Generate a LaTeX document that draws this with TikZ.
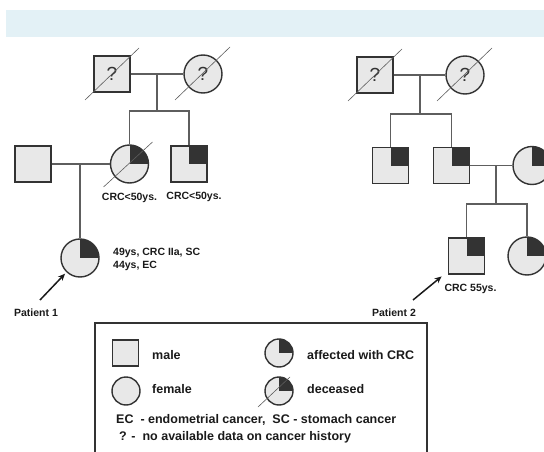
\documentclass[tikz,border=0pt]{standalone}
\usepackage{fontspec}
\setmainfont{Liberation Sans}
\usetikzlibrary{arrows.meta}
\usetikzlibrary{positioning}
\usetikzlibrary{calc}
\definecolor{bandblue}{HTML}{E3F1F6}
\definecolor{symfill}{HTML}{E8E8E8}
\definecolor{symdark}{HTML}{333333}
\definecolor{linegray}{HTML}{5E5E5E}
\definecolor{txt}{HTML}{1A1A1A}
\tikzset{
  male/.style={rectangle, draw=symdark, line width=1.4pt, fill=symfill,
    minimum size=36pt, inner sep=0pt, text=symdark, font=\fontsize{19}{19}\selectfont},
  female/.style={circle, draw=symdark, line width=1.4pt, fill=symfill,
    minimum size=38pt, inner sep=0pt, text=symdark, font=\fontsize{19}{19}\selectfont},
  affected/.style={path picture={\fill[symdark] (path picture bounding box.center)
    rectangle (path picture bounding box.north east);}},
  deceased/.style={draw=linegray, line width=0.6pt},
  rel/.style={draw=linegray, line width=1.5pt},
  note/.style={font=\bfseries\fontsize{10.5}{13}\selectfont, text=txt, inner sep=0pt, align=left},
  legtext/.style={font=\bfseries\fontsize{12.5}{14}\selectfont, text=txt, inner sep=0pt, anchor=west},
  pointer/.style={-{Stealth[length=7pt,width=6pt]}, line width=1.5pt, draw=txt},
}
\begin{document}
\begin{tikzpicture}[x=1pt, y=-1pt]
  \useasboundingbox (0,0) rectangle (544,452);
  \clip (0,0) rectangle (544,452);
  %top band
  \fill[bandblue] (6,10) rectangle (544,37);

  %family of patient 1
  \node[male] (gf1) at (112,74) {?};
  \node[female] (gm1) at (203,74) {?};
  \node[male] (fa1) at (33,164) {};
  \node[female, affected] (mo1) at (129.5,164) {};
  \node[male, affected] (un1) at (189,164) {};
  \node[female, affected] (pt1) at (80,258) {};
  \coordinate (m1) at (157,74);
  \coordinate (s1) at (157,111);
  \coordinate (m2) at (80,164);
  \draw[rel] (gf1) -- (gm1);
  \draw[rel] (m1) -- (s1);
  \draw[rel] (mo1) |- (s1) -| (un1);
  \draw[rel] (fa1) -- (mo1);
  \draw[rel] (m2) -- (pt1);
  %deceased
  \draw[deceased] ($(gf1)+(-27,26)$) -- ($(gf1)+(27,-26)$);
  \draw[deceased] ($(gm1)+(-28,26)$) -- ($(gm1)+(27,-27)$);
  \draw[deceased] ($(mo1)+(-26,23)$) -- ($(mo1)+(23,-22)$);
  %labels
  \node[note, below=9pt of mo1] (l1) {CRC<50ys.};
  \node[note, below=9pt of un1, xshift=5pt] (l2) {CRC<50ys.};
  \node[note, anchor=west] (l3) at (113,259) {49ys, CRC IIa, SC\\44ys, EC};
  \node[note] (pl1) at (36,313) {Patient 1};
  \coordinate (a1) at (40,300);
  \draw[pointer, shorten >=2pt] (a1) -- (pt1);

  %family of patient 2
  \node[male] (gf2) at (375,75) {?};
  \node[female] (gm2) at (465,75) {?};
  \node[male, affected] (so1) at (390.5,165.5) {};
  \node[male, affected] (so2) at (451.5,165.5) {};
  \node[female, affected] (wi2) at (532,165.5) {};
  \node[male, affected] (pt2) at (466.5,256) {};
  \node[female, affected] (da2) at (527,256) {};
  \coordinate (m3) at (420,75);
  \coordinate (s3) at (420,114);
  \coordinate (m4) at (496,165.5);
  \coordinate (s4) at (496,204);
  \draw[rel] (gf2) -- (gm2);
  \draw[rel] (m3) -- (s3);
  \draw[rel] (so1) |- (s3) -| (so2);
  \draw[rel] (so2) -- (wi2);
  \draw[rel] (m4) -- (s4);
  \draw[rel] (pt2) |- (s4) -| (da2);
  %deceased
  \draw[deceased] ($(gf2)+(-27,26)$) -- ($(gf2)+(27,-26)$);
  \draw[deceased] ($(gm2)+(-28,26)$) -- ($(gm2)+(27,-27)$);
  %labels
  \node[note, below=9pt of pt2, xshift=4pt] (l4) {CRC 55ys.};
  \node[note] (pl2) at (394,313) {Patient 2};
  \coordinate (a2) at (413,300);
  \draw[pointer, shorten >=8pt] (a2) -- (pt2);

  %legend
  \draw[line width=1.4pt, draw=symdark] (95,323) rectangle (427,470);
  \node[male, minimum size=26pt] (lm) at (125.5,353) {};
  \node[female, minimum size=28pt] (lf) at (126,391) {};
  \node[female, affected, minimum size=28pt] (la) at (279,353) {};
  \node[female, affected, minimum size=28pt] (ld) at (279,391) {};
  \draw[deceased] ($(ld)+(-21,16)$) -- ($(ld)+(11,-14)$);
  \node[legtext] (tm) at (152,355) {male};
  \node[legtext] (tf) at (152,389) {female};
  \node[legtext] (ta) at (307,355) {affected with CRC};
  \node[legtext] (td) at (307,389) {deceased};
  \node[legtext] (tc) at (116,420) {EC\ \ - endometrial cancer,\ \ SC - stomach cancer};
  \node[legtext] (tq) at (119,437) {? -\ \ no available data on cancer history};
\end{tikzpicture}
\end{document}
